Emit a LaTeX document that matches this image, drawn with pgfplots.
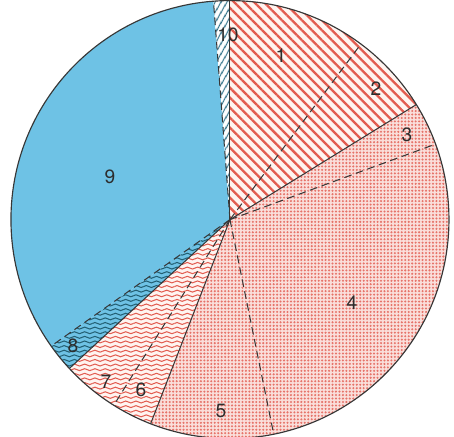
\documentclass[border=0pt]{standalone}
\usepackage{fontspec}
\setmainfont{TeX Gyre Heros}
\usepackage{pgfplots}
\pgfplotsset{compat=1.18}
\usepackage{pgfplotstable}
\usetikzlibrary{patterns, patterns.meta}

\definecolor{skyblue}{RGB}{110,194,229}
\definecolor{hatchred}{RGB}{226,92,80}
\definecolor{palepink}{RGB}{250,222,218}
\definecolor{dotred}{RGB}{230,115,105}
\definecolor{creamwhite}{RGB}{255,244,240}
\definecolor{tealwave}{RGB}{35,95,115}
\definecolor{edgegray}{RGB}{55,55,55}
\definecolor{labelgray}{RGB}{45,45,45}

% wavy lines, coloured by pattern color
\pgfdeclarepatternformonly{waves}{\pgfpoint{-0.5pt}{-0.5pt}}{\pgfpoint{8.5pt}{4.1pt}}{\pgfpoint{8pt}{3.6pt}}{%
  \pgfsetlinewidth{0.8pt}%
  \pgfpathmoveto{\pgfpoint{0pt}{1.8pt}}%
  \pgfpathcurveto{\pgfpoint{1.3pt}{2.8pt}}{\pgfpoint{2.7pt}{2.8pt}}{\pgfpoint{4pt}{1.8pt}}%
  \pgfpathcurveto{\pgfpoint{5.3pt}{0.8pt}}{\pgfpoint{6.7pt}{0.8pt}}{\pgfpoint{8pt}{1.8pt}}%
  \pgfusepath{stroke}}

\tikzset{
  hatched/.style={fill=creamwhite, postaction={pattern={Lines[angle=-45,distance=5.5pt,line width=1.8pt]}, pattern color=hatchred}},
  dotted/.style={fill=palepink, postaction={pattern={Dots[radius=0.9pt,distance=2.7pt]}, pattern color=dotred}},
  wavyred/.style={fill=creamwhite, postaction={pattern=waves, pattern color=hatchred}},
  s1/.style={hatched}, s2/.style={hatched},
  s3/.style={dotted}, s4/.style={dotted}, s5/.style={dotted},
  s6/.style={wavyred}, s7/.style={wavyred},
  s8/.style={fill=skyblue, postaction={pattern=waves, pattern color=tealwave}},
  s9/.style={fill=skyblue},
  s10/.style={fill=white, postaction={pattern={Lines[angle=60,distance=4pt,line width=1pt]}, pattern color=tealwave!80!skyblue}},
  edgeline/.style={draw=edgegray, line width=0.8pt},
  dashedge/.style={dash pattern=on 6pt off 3.5pt},
  lbl/.style={font=\fontsize{15}{17}\selectfont, text=labelgray, inner sep=0pt},
}

% share in percent, clockwise from 12 o'clock; edge: style of the slice's leading edge (1 = dashed)
\pgfplotstableread{
slice share edge lx ly
1  10.2 0  0.233  0.749
2   6.0 1  0.667  0.598
3   3.2 0  0.808  0.388
4  27.4 1  0.557 -0.379
5   9.1 1 -0.041 -0.872
6   3.0 0 -0.406 -0.776
7   4.2 1 -0.566 -0.740
8   2.1 0 -0.717 -0.575
9  33.6 1 -0.548  0.196
10  1.2 1 -0.009  0.845
}\piedata

\begin{document}
\begin{tikzpicture}
\begin{axis}[
    x=6cm, y=6cm,
    xmin=-1.050, xmax=1.023,
    ymin=-0.991, ymax=1.009,
    hide axis,
    clip bounding box=upper bound,
]
% slices
\def\astart{90}
\pgfplotsforeachungrouped \i in {0,...,9}{%
  \pgfplotstablegetelem{\i}{slice}\of\piedata
  \edef\sname{\pgfplotsretval}%
  \pgfplotstablegetelem{\i}{share}\of\piedata
  \pgfmathsetmacro\aend{\astart-3.6*\pgfplotsretval}%
  \edef\cmd{\noexpand\path[s\sname] (axis cs:0,0) -- (axis cs:{cos(\astart)},{sin(\astart)})
    arc[start angle=\astart, end angle=\aend, radius=6cm] -- cycle;}%
  \cmd
  \let\astart\aend
}
% slice edges
\def\astart{90}
\pgfplotsforeachungrouped \i in {0,...,9}{%
  \pgfplotstablegetelem{\i}{edge}\of\piedata
  \edef\cmd{\noexpand\draw[edgeline\ifnum\pgfplotsretval=1 , dashedge\fi]
    (axis cs:0,0) -- (axis cs:{cos(\astart)},{sin(\astart)});}%
  \cmd
  \pgfplotstablegetelem{\i}{share}\of\piedata
  \pgfmathsetmacro\aend{\astart-3.6*\pgfplotsretval}%
  \let\astart\aend
}
\draw[edgeline, line width=0.9pt] (axis cs:0,0) circle[radius=6cm];
% labels
\pgfplotsforeachungrouped \i in {0,...,9}{%
  \pgfplotstablegetelem{\i}{slice}\of\piedata
  \edef\sname{\pgfplotsretval}%
  \pgfplotstablegetelem{\i}{lx}\of\piedata
  \edef\lx{\pgfplotsretval}%
  \pgfplotstablegetelem{\i}{ly}\of\piedata
  \edef\ly{\pgfplotsretval}%
  \edef\cmd{\noexpand\node[lbl] at (axis cs:\lx,\ly) {\sname};}%
  \cmd
}
\end{axis}
\end{tikzpicture}
\end{document}
